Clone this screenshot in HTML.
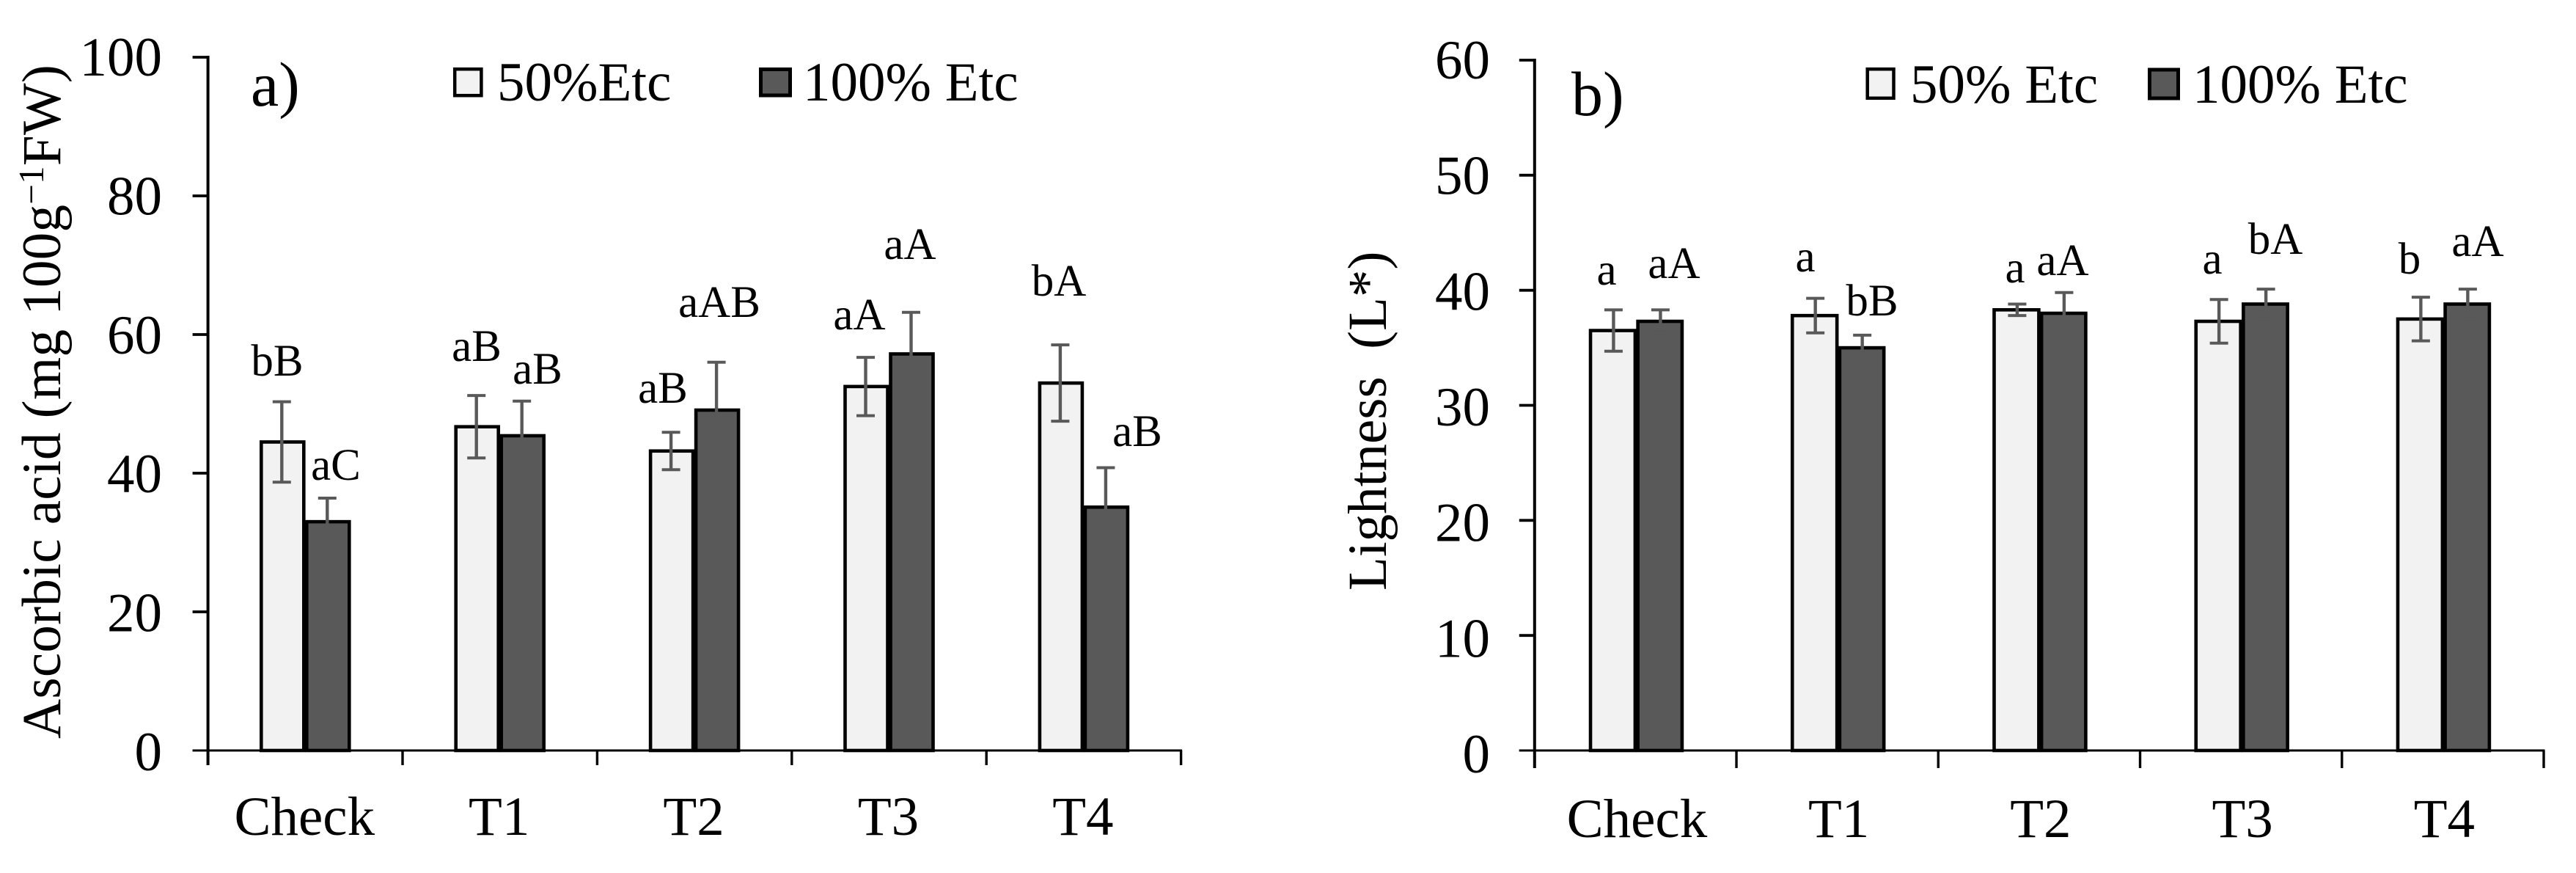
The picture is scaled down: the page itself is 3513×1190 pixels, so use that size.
<!DOCTYPE html>
<html lang="en">
<head>
<meta charset="utf-8">
<title>Ascorbic acid and lightness by treatment</title>
<style>
html,body{margin:0;padding:0;background:#fff;width:3513px;height:1190px;overflow:hidden}
svg{display:block}
text{font-family:"Liberation Serif",serif;fill:#000;font-size:75px}
.ann{font-size:61px;text-anchor:middle}
.panel-tag{font-size:86px}
</style>
</head>
<body>
<svg id="chart" xmlns="http://www.w3.org/2000/svg" width="3513" height="1190" viewBox="0 0 3513 1190">
  <g id="panel-a">
    <text class="panel-tag" x="342" y="144">a)</text>
    <text transform="translate(82,1007) rotate(-90)" style="letter-spacing:.25px">Ascorbic acid (mg 100g<tspan dy="-23" font-size="49">−1</tspan><tspan dy="23">FW)</tspan></text>
    <rect x="620.2" y="94.2" width="36.2" height="36" fill="#f2f2f2" stroke="#000" stroke-width="4.5"/>
    <text x="678" y="137">50%Etc</text>
    <rect x="1037.5" y="94.5" width="40" height="35.5" fill="#595959" stroke="#000" stroke-width="5"/>
    <text x="1095" y="137">100% Etc</text>
    <text class="ann" x="378" y="512">bB</text>
    <text class="ann" x="458" y="654">aC</text>
    <text class="ann" x="650" y="492">aB</text>
    <text class="ann" x="733" y="523">aB</text>
    <text class="ann" x="904" y="549">aB</text>
    <text class="ann" x="981" y="432">aAB</text>
    <text class="ann" x="1172" y="449">aA</text>
    <text class="ann" x="1241" y="353">aA</text>
    <text class="ann" x="1444" y="403">bA</text>
    <text class="ann" x="1551" y="608">aB</text>
  </g>
  <g id="panel-b">
    <text class="panel-tag" x="2143" y="157">b)</text>
    <text transform="translate(1890,805) rotate(-90)" xml:space="preserve">Lightness  (L*)</text>
    <rect x="2546.7" y="94.2" width="35.8" height="39.6" fill="#f2f2f2" stroke="#000" stroke-width="4.5"/>
    <text x="2605" y="140">50% Etc</text>
    <rect x="2931.5" y="95" width="39" height="39" fill="#595959" stroke="#000" stroke-width="5"/>
    <text x="2990" y="140">100% Etc</text>
    <text class="ann" x="2191" y="388">a</text>
    <text class="ann" x="2283" y="379">aA</text>
    <text class="ann" x="2462" y="370">a</text>
    <text class="ann" x="2553" y="430">bB</text>
    <text class="ann" x="2748" y="385">a</text>
    <text class="ann" x="2813" y="375">aA</text>
    <text class="ann" x="3017" y="373">a</text>
    <text class="ann" x="3103" y="346">bA</text>
    <text class="ann" x="3286" y="373">b</text>
    <text class="ann" x="3379" y="349">aA</text>
  </g>
</svg>
<script>
const categories = ["Check", "T1", "T2", "T3", "T4"];

const ascorbicTicks = [0, 20, 40, 60, 80, 100];
const ascorbic50 = [44.5, 46.7, 43.2, 52.5, 53.0];
const ascorbic100 = [33.0, 45.4, 49.1, 57.2, 35.1];
const ascorbic50Err = [5.8, 4.5, 2.7, 4.2, 5.5];
const ascorbic100Err = [3.4, 5.0, 6.9, 6.0, 5.7];

const lightnessTicks = [0, 10, 20, 30, 40, 50, 60];
const lightness50 = [36.5, 37.8, 38.3, 37.3, 37.5];
const lightness100 = [37.3, 35.0, 38.0, 38.8, 38.8];
const lightness50Err = [1.8, 1.5, 0.5, 1.9, 1.9];
const lightness100Err = [1.0, 1.1, 1.8, 1.3, 1.3];

const NS = "http://www.w3.org/2000/svg";

function make(parent, tag, attrs, content) {
  const el = document.createElementNS(NS, tag);
  for (const k in attrs) el.setAttribute(k, attrs[k]);
  if (content !== undefined) el.textContent = content;
  parent.appendChild(el);
  return el;
}

function drawPanel(cfg) {
  const g = document.getElementById(cfg.id);
  const y = v => cfg.y0 - (v / cfg.max) * (cfg.y0 - cfg.yTop);
  const labelY = v => cfg.labTop + (1 - v / cfg.max) * (cfg.lab0 - cfg.labTop);
  const xEdge = i => cfg.x0 + i * cfg.step;
  const xCenter = i => xEdge(i) + cfg.step / 2;
  const n = cfg.categories.length;

  for (let i = 0; i < n; i++) {
    const c = xCenter(i);
    const barLow = make(g, "rect", {
      x: c + cfg.lowL, y: y(cfg.low[i]), width: cfg.lowR - cfg.lowL,
      height: cfg.y0 - y(cfg.low[i]), fill: "#f2f2f2", stroke: "#000", "stroke-width": 4.6
    });
    
    
    const barHigh = make(g, "rect", {
      x: c + cfg.highL, y: y(cfg.high[i]), width: cfg.highR - cfg.highL,
      height: cfg.y0 - y(cfg.high[i]), fill: "#595959", stroke: "#000", "stroke-width": 4.6
    });
    
    
  }

  const drawErr = (cx, val, err, name) => {
    const eg = make(g, "g", { stroke: "#595959", fill: "none" });
    
    
    make(eg, "line", { x1: cx, x2: cx, y1: y(val + err), y2: y(val - err), "stroke-width": 4.4 });
    make(eg, "line", { x1: cx - 12.5, x2: cx + 12.5, y1: y(val + err), y2: y(val + err), "stroke-width": 4 });
    make(eg, "line", { x1: cx - 12.5, x2: cx + 12.5, y1: y(val - err), y2: y(val - err), "stroke-width": 4 });
  };
  for (let i = 0; i < n; i++) {
    const c = xCenter(i);
    drawErr(c + cfg.errLow, cfg.low[i], cfg.lowErr[i], 'error-bar-50-etc');
    drawErr(c + cfg.errHigh, cfg.high[i], cfg.highErr[i], 'error-bar-100-etc');
  }

  const yAxis = make(g, "line", { x1: cfg.x0, x2: cfg.x0, y1: cfg.yTop - 2, y2: cfg.y0 + cfg.tickDown, stroke: "#000", "stroke-width": 4 });
  
  
  const xAxis = make(g, "line", { x1: cfg.x0 - 21, x2: xEdge(n) + 1.5, y1: cfg.y0, y2: cfg.y0, stroke: "#000", "stroke-width": 3 });
  
  

  cfg.ticks.forEach(v => {
    const t = make(g, "line", { x1: cfg.x0 - 21, x2: cfg.x0, y1: y(v), y2: y(v), stroke: "#000", "stroke-width": v === 0 ? 3 : 3.8 });
    
    
    const l = make(g, "text", { x: cfg.labelRight, y: labelY(v), "text-anchor": "end" }, String(v));
    
    
  });

  for (let i = 0; i <= n; i++) {
    const t = make(g, "line", { x1: xEdge(i), x2: xEdge(i), y1: cfg.y0, y2: cfg.y0 + cfg.tickDown, stroke: "#000", "stroke-width": 3.4 });
    
    
  }
  cfg.categories.forEach((name, i) => {
    const l = make(g, "text", { x: xCenter(i) + cfg.catShift, y: cfg.catY, "text-anchor": "middle" }, name);
    
    
  });
}

drawPanel({
  id: "panel-a", categories, ticks: ascorbicTicks, max: 100,
  low: ascorbic50, high: ascorbic100, lowErr: ascorbic50Err, highErr: ascorbic100Err,
  x0: 283.6, step: 265.4, y0: 1023, yTop: 78, tickDown: 20,
  lowL: -60, lowR: -2, highL: 2, highR: 60, errLow: -32, errHigh: 30,
  labelRight: 221, labTop: 103, lab0: 1050, catY: 1138, catShift: -1
});

drawPanel({
  id: "panel-b", categories, ticks: lightnessTicks, max: 60,
  low: lightness50, high: lightness100, lowErr: lightness50Err, highErr: lightness100Err,
  x0: 2092.8, step: 275.24, y0: 1023, yTop: 82, tickDown: 24,
  lowL: -61.4, lowR: -0.5, highL: 3.2, highR: 63.5, errLow: -30, errHigh: 34,
  labelRight: 2032, labTop: 107, lab0: 1053, catY: 1141, catShift: 2
});
</script>
</body>
</html>
